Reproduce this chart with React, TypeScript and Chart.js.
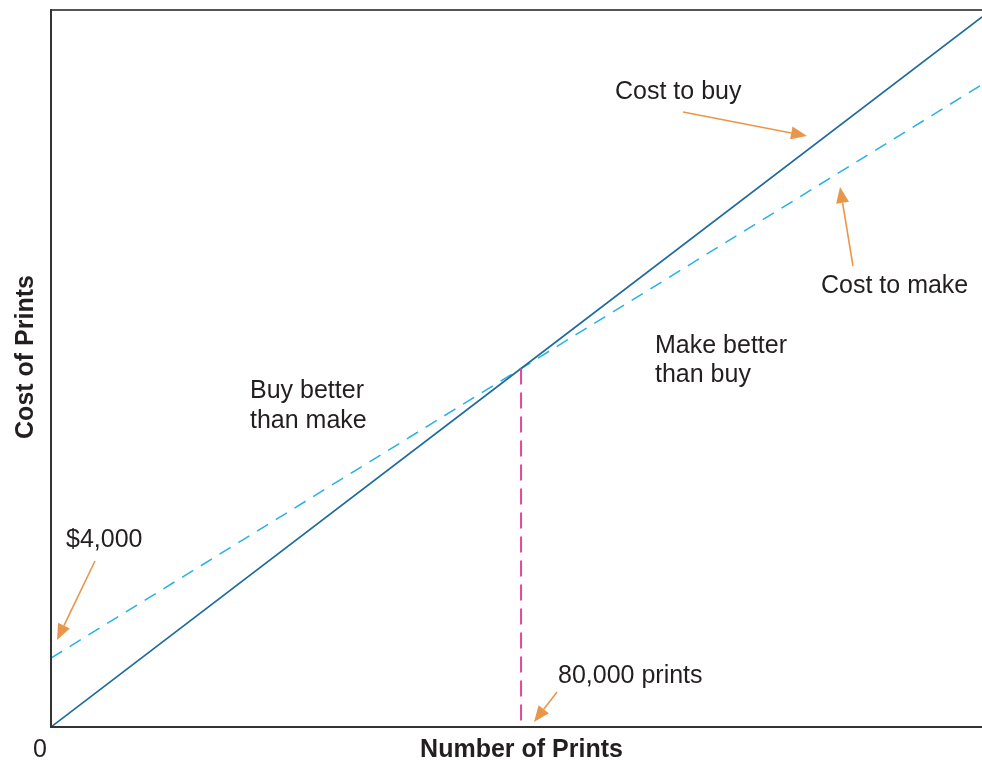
import React, { useEffect, useRef } from "react";
import { Chart, registerables } from "chart.js";

Chart.register(...registerables);

// Data
const prints = [0, 80000, 158450];
const costToBuy = [0, 20800, 41200];
const costToMake = [4000, 20800, 37270];
const breakEvenPrints = [80000, 80000];
const breakEvenCost = [20800, 0];
const X_MAX = 158450;
const Y_MAX = 41600;

const FONT = '"Liberation Sans", Arial, Helvetica, sans-serif';
const TEXT = "#231f20";
const ORANGE = "#e8974a";

type Ann = { text: string; x: number; y: number };
const labels: Ann[] = [
  { text: "Cost to buy", x: 615, y: 99 },
  { text: "Cost to make", x: 821, y: 293 },
  { text: "Make better", x: 655, y: 353 },
  { text: "than buy", x: 655, y: 382 },
  { text: "Buy better", x: 250, y: 398 },
  { text: "than make", x: 250, y: 428 },
  { text: "$4,000", x: 66, y: 547 },
  { text: "80,000 prints", x: 558, y: 683 },
];
const arrows = [
  [683, 112, 807, 136],
  [853, 266, 840, 187],
  [95, 561, 57, 640],
  [557, 692, 534, 722],
];

function drawArrow(ctx: CanvasRenderingContext2D, x1: number, y1: number, x2: number, y2: number) {
  const ang = Math.atan2(y2 - y1, x2 - x1);
  const hl = 16, hw = 6.5;
  const bx = x2 - hl * Math.cos(ang);
  const by = y2 - hl * Math.sin(ang);
  ctx.save();
  ctx.strokeStyle = ORANGE;
  ctx.fillStyle = ORANGE;
  ctx.lineWidth = 1.6;
  ctx.beginPath();
  ctx.moveTo(x1, y1);
  ctx.lineTo(bx, by);
  ctx.stroke();
  ctx.beginPath();
  ctx.moveTo(x2, y2);
  ctx.lineTo(bx + hw * Math.sin(ang), by - hw * Math.cos(ang));
  ctx.lineTo(bx - hw * Math.sin(ang), by + hw * Math.cos(ang));
  ctx.closePath();
  ctx.fill();
  ctx.restore();
}

const decor = {
  id: "decor",
  afterDraw(chart: any) {
    const ctx: CanvasRenderingContext2D = chart.ctx;
    const { left, top, right, bottom } = chart.chartArea;
    ctx.save();
    // frame
    ctx.strokeStyle = "#555555";
    ctx.lineWidth = 2;
    ctx.beginPath();
    ctx.moveTo(left, top);
    ctx.lineTo(right, top);
    ctx.stroke();
    ctx.strokeStyle = "#333333";
    ctx.beginPath();
    ctx.moveTo(left, top - 1);
    ctx.lineTo(left, bottom + 1);
    ctx.moveTo(left - 1, bottom);
    ctx.lineTo(right, bottom);
    ctx.stroke();

    // labels
    ctx.fillStyle = TEXT;
    ctx.font = `25px ${FONT}`;
    ctx.textAlign = "left";
    ctx.textBaseline = "alphabetic";
    for (const l of labels) ctx.fillText(l.text, l.x, l.y);

    // zero
    ctx.textAlign = "center";
    ctx.fillText("0", 40, 757);

    // axis titles
    ctx.font = `bold 25px ${FONT}`;
    ctx.fillText("Number of Prints", (left + right) / 2 + 5, 757);
    ctx.save();
    ctx.translate(33, 357);
    ctx.rotate(-Math.PI / 2);
    ctx.fillText("Cost of Prints", 0, 0);
    ctx.restore();

    for (const a of arrows) drawArrow(ctx, a[0], a[1], a[2], a[3]);
    ctx.restore();
  },
};

export default function App() {
  const ref = useRef<HTMLCanvasElement>(null);
  useEffect(() => {
    document.body.style.margin = "0";
    const chart = new Chart(ref.current!, {
      type: "scatter",
      data: {
        datasets: [
          {
            label: "Break-even",
            data: breakEvenPrints.map((p, i) => ({ x: p, y: breakEvenCost[i] })),
            showLine: true,
            borderColor: "#e2479c",
            borderWidth: 2,
            borderDash: [16, 8],
            pointRadius: 0,
          },
          {
            label: "Cost to buy",
            data: prints.map((p, i) => ({ x: p, y: costToBuy[i] })),
            showLine: true,
            borderColor: "#1f6c9c",
            borderWidth: 1.6,
            pointRadius: 0,
          },
          {
            label: "Cost to make",
            data: prints.map((p, i) => ({ x: p, y: costToMake[i] })),
            showLine: true,
            borderColor: "#25b2e6",
            borderWidth: 1.5,
            borderDash: [13, 9],
            pointRadius: 0,
          },
        ],
      },
      options: {
        animation: false,
        responsive: false,
        layout: { padding: { left: 51, top: 10, right: 0, bottom: 33 } },
        plugins: { legend: { display: false }, tooltip: { enabled: false } },
        scales: {
          x: { type: "linear", min: 0, max: X_MAX, display: false },
          y: { type: "linear", min: 0, max: Y_MAX, display: false },
        },
      },
      plugins: [decor],
    });
    return () => chart.destroy();
  }, []);
  return (
    <div style={{ position: "fixed", left: 0, top: 0, width: 982, height: 760, background: "#fff" }}>
      <canvas ref={ref} width={982} height={760} />
    </div>
  );
}
